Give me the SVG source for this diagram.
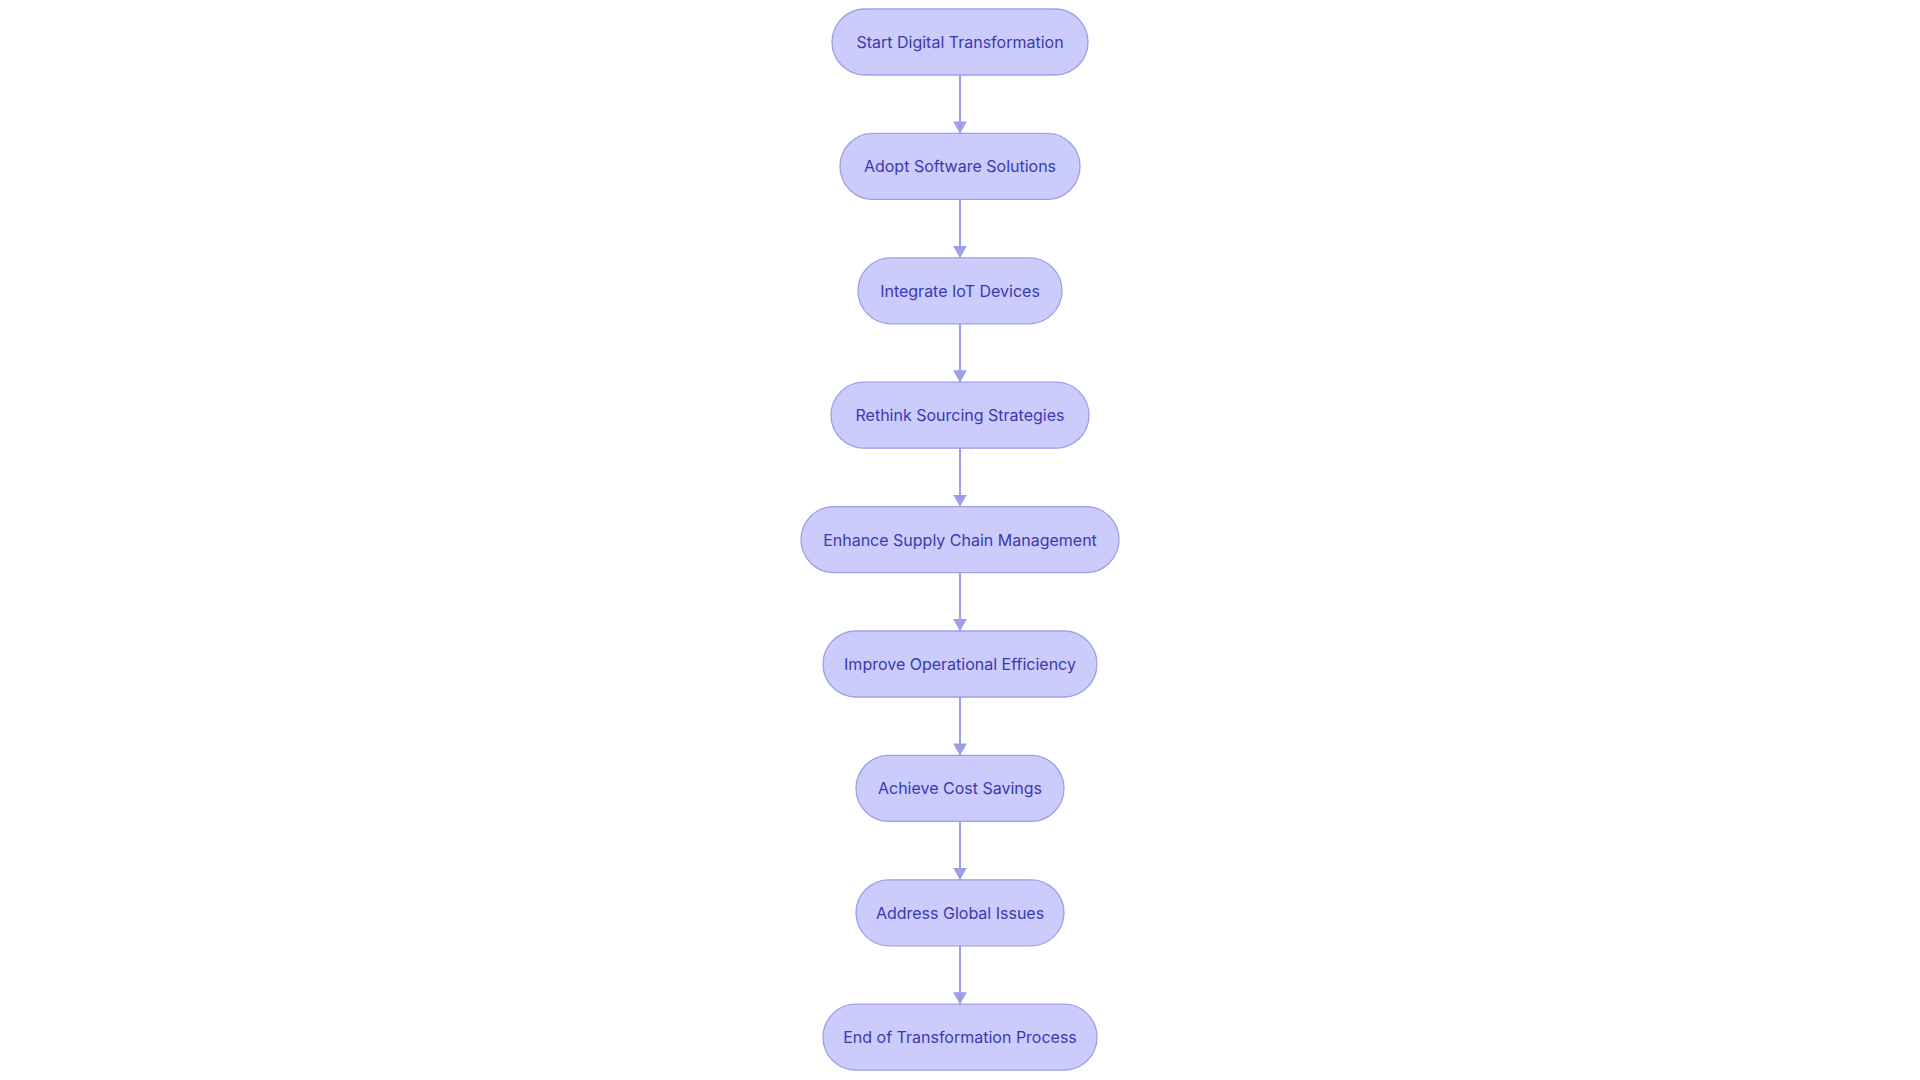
<svg xmlns="http://www.w3.org/2000/svg" width="1920" height="1080" viewBox="0 0 1920 1080">
<style>
.node rect{fill:#cbcbfc;stroke:#9f9fe8;stroke-width:1.3}
.node text{font-family:Inter,"Noto Sans",sans-serif;font-size:16px;fill:#3a3ab0;text-anchor:middle;dominant-baseline:central}
.edge{stroke:#9e9ee8;stroke-width:2;fill:none}
</style>
<defs>
<marker id="arr" viewBox="0 0 12 14" refX="12" refY="7" markerWidth="12" markerHeight="14" markerUnits="userSpaceOnUse" orient="auto">
<path d="M0,0 L12,7 L0,14 Z" fill="#9e9ee8"/>
</marker>
</defs>
<rect width="1920" height="1080" fill="#ffffff"/>
<g id="connectors">
<line class="edge" x1="960" y1="75" x2="960" y2="133.4" marker-end="url(#arr)"/>
<line class="edge" x1="960" y1="199.4" x2="960" y2="257.8" marker-end="url(#arr)"/>
<line class="edge" x1="960" y1="323.8" x2="960" y2="382.2" marker-end="url(#arr)"/>
<line class="edge" x1="960" y1="448.2" x2="960" y2="506.6" marker-end="url(#arr)"/>
<line class="edge" x1="960" y1="572.6" x2="960" y2="631" marker-end="url(#arr)"/>
<line class="edge" x1="960" y1="697" x2="960" y2="755.4" marker-end="url(#arr)"/>
<line class="edge" x1="960" y1="821.4" x2="960" y2="879.8" marker-end="url(#arr)"/>
<line class="edge" x1="960" y1="945.8" x2="960" y2="1004.2" marker-end="url(#arr)"/>
</g>
<g id="n1" class="node"><rect x="832" y="9" width="256" height="66" rx="33"/><text x="960" y="42">Start Digital Transformation</text></g>
<g id="n2" class="node"><rect x="840" y="133.4" width="240" height="66" rx="33"/><text x="960" y="166.4">Adopt Software Solutions</text></g>
<g id="n3" class="node"><rect x="858" y="257.8" width="204" height="66" rx="33"/><text x="960" y="290.8">Integrate IoT Devices</text></g>
<g id="n4" class="node"><rect x="831" y="382.2" width="258" height="66" rx="33"/><text x="960" y="415.2">Rethink Sourcing Strategies</text></g>
<g id="n5" class="node"><rect x="801" y="506.6" width="318" height="66" rx="33"/><text x="960" y="539.6">Enhance Supply Chain Management</text></g>
<g id="n6" class="node"><rect x="823" y="631" width="274" height="66" rx="33"/><text x="960" y="664">Improve Operational Efficiency</text></g>
<g id="n7" class="node"><rect x="856" y="755.4" width="208" height="66" rx="33"/><text x="960" y="788.4">Achieve Cost Savings</text></g>
<g id="n8" class="node"><rect x="856" y="879.8" width="208" height="66" rx="33"/><text x="960" y="912.8">Address Global Issues</text></g>
<g id="n9" class="node"><rect x="823" y="1004.2" width="274" height="66" rx="33"/><text x="960" y="1037.2">End of Transformation Process</text></g>
</svg>
